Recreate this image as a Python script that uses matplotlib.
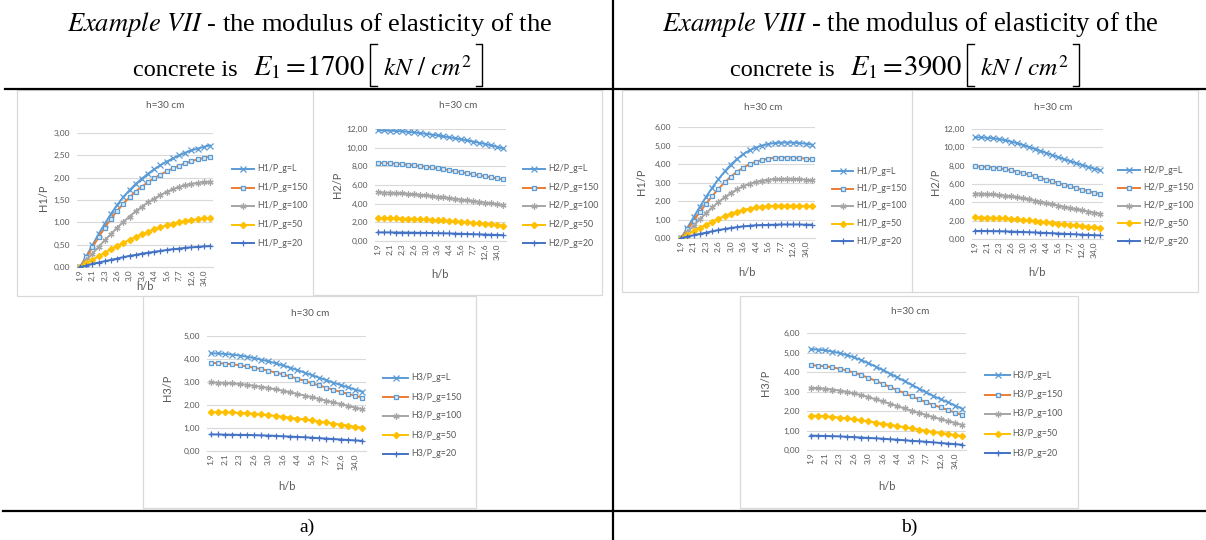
import matplotlib
matplotlib.use("Agg")
import matplotlib.pyplot as plt
from matplotlib.patches import Rectangle
from matplotlib.lines import Line2D
from matplotlib.ticker import FuncFormatter, MultipleLocator

W, H = 1206, 540
plt.rcParams['mathtext.fontset'] = 'stix'

# ---------------- data ----------------
x_labels = ["1,9", "2,0", "2,1", "2,2", "2,3", "2,4", "2,6", "2,8", "3,0", "3,3", "3,6",
            "4,0", "4,4", "4,9", "5,6", "6,5", "7,7", "9,6", "12,6", "18,9", "34,0", "100,0"]
series_suffix = ["g=L", "g=150", "g=100", "g=50", "g=20"]
moduli = ["1700", "3900"]
examples = ["VII", "VIII"]

# Example VII (E1 = 1700)
a_h1_gL = [0.00, 0.24, 0.49, 0.74, 0.97, 1.19, 1.39, 1.57, 1.72, 1.86, 1.98, 2.09, 2.19, 2.28, 2.36, 2.43, 2.50, 2.56, 2.61, 2.65, 2.69, 2.72]
a_h1_g150 = [0.00, 0.22, 0.44, 0.67, 0.88, 1.08, 1.26, 1.42, 1.56, 1.69, 1.80, 1.90, 1.99, 2.07, 2.14, 2.21, 2.27, 2.32, 2.37, 2.41, 2.44, 2.47]
a_h1_g100 = [0.00, 0.15, 0.30, 0.45, 0.60, 0.74, 0.88, 1.01, 1.13, 1.25, 1.35, 1.45, 1.53, 1.61, 1.68, 1.74, 1.79, 1.83, 1.86, 1.88, 1.90, 1.91]
a_h1_g50 = [0.00, 0.08, 0.16, 0.24, 0.32, 0.40, 0.47, 0.54, 0.61, 0.67, 0.73, 0.79, 0.84, 0.89, 0.93, 0.97, 1.00, 1.03, 1.05, 1.07, 1.09, 1.10]
a_h1_g20 = [0.00, 0.03, 0.07, 0.10, 0.13, 0.16, 0.19, 0.22, 0.25, 0.27, 0.30, 0.32, 0.34, 0.36, 0.38, 0.40, 0.41, 0.43, 0.44, 0.45, 0.46, 0.47]

a_h2_gL = [11.85, 11.84, 11.82, 11.79, 11.75, 11.70, 11.64, 11.57, 11.49, 11.40, 11.31, 11.21, 11.11, 11.00, 10.89, 10.77, 10.65, 10.52, 10.39, 10.25, 10.10, 9.92]
a_h2_g150 = [8.35, 8.34, 8.32, 8.29, 8.24, 8.18, 8.12, 8.05, 7.97, 7.88, 7.79, 7.69, 7.59, 7.48, 7.37, 7.26, 7.15, 7.04, 6.93, 6.82, 6.71, 6.60]
a_h2_g100 = [5.20, 5.19, 5.17, 5.14, 5.10, 5.05, 5.00, 4.94, 4.88, 4.81, 4.74, 4.67, 4.59, 4.51, 4.43, 4.35, 4.27, 4.19, 4.11, 4.03, 3.94, 3.85]
a_h2_g50 = [2.45, 2.45, 2.44, 2.43, 2.41, 2.39, 2.37, 2.34, 2.31, 2.28, 2.24, 2.20, 2.16, 2.12, 2.07, 2.02, 1.97, 1.91, 1.85, 1.79, 1.72, 1.65]
a_h2_g20 = [0.92, 0.92, 0.92, 0.91, 0.91, 0.90, 0.89, 0.88, 0.87, 0.86, 0.84, 0.83, 0.81, 0.79, 0.77, 0.75, 0.73, 0.71, 0.69, 0.67, 0.65, 0.62]

a_h3_gL = [4.25, 4.24, 4.22, 4.19, 4.15, 4.10, 4.04, 3.97, 3.90, 3.81, 3.72, 3.62, 3.52, 3.41, 3.30, 3.19, 3.08, 2.97, 2.87, 2.77, 2.67, 2.58]
a_h3_g150 = [3.83, 3.82, 3.80, 3.77, 3.73, 3.68, 3.62, 3.56, 3.49, 3.41, 3.33, 3.24, 3.15, 3.05, 2.95, 2.85, 2.76, 2.66, 2.57, 2.48, 2.40, 2.32]
a_h3_g100 = [2.98, 2.97, 2.96, 2.94, 2.91, 2.88, 2.84, 2.79, 2.74, 2.68, 2.62, 2.55, 2.48, 2.41, 2.34, 2.26, 2.19, 2.11, 2.04, 1.96, 1.89, 1.82]
a_h3_g50 = [1.70, 1.69, 1.69, 1.68, 1.66, 1.64, 1.62, 1.59, 1.56, 1.53, 1.49, 1.45, 1.41, 1.37, 1.33, 1.28, 1.24, 1.19, 1.15, 1.10, 1.06, 1.02]
a_h3_g20 = [0.72, 0.72, 0.71, 0.71, 0.70, 0.70, 0.69, 0.68, 0.67, 0.66, 0.64, 0.63, 0.61, 0.60, 0.58, 0.56, 0.54, 0.52, 0.50, 0.48, 0.46, 0.44]

# Example VIII (E1 = 3900)
b_h1_gL = [0.00, 0.55, 1.12, 1.68, 2.22, 2.72, 3.18, 3.60, 3.97, 4.28, 4.54, 4.74, 4.89, 5.00, 5.08, 5.13, 5.15, 5.16, 5.15, 5.13, 5.10, 5.05]
b_h1_g150 = [0.00, 0.46, 0.93, 1.40, 1.85, 2.27, 2.66, 3.01, 3.32, 3.59, 3.81, 3.99, 4.12, 4.22, 4.29, 4.33, 4.35, 4.35, 4.34, 4.32, 4.29, 4.25]
b_h1_g100 = [0.00, 0.33, 0.67, 1.01, 1.34, 1.65, 1.94, 2.20, 2.43, 2.63, 2.80, 2.93, 3.03, 3.10, 3.15, 3.18, 3.19, 3.20, 3.19, 3.18, 3.15, 3.12]
b_h1_g50 = [0.00, 0.18, 0.36, 0.54, 0.72, 0.89, 1.05, 1.19, 1.32, 1.43, 1.52, 1.59, 1.65, 1.69, 1.72, 1.74, 1.75, 1.75, 1.75, 1.74, 1.73, 1.72]
b_h1_g20 = [0.00, 0.07, 0.15, 0.22, 0.29, 0.36, 0.43, 0.49, 0.54, 0.59, 0.63, 0.66, 0.69, 0.70, 0.71, 0.72, 0.73, 0.73, 0.73, 0.73, 0.72, 0.72]

b_h2_gL = [11.10, 11.08, 11.04, 10.98, 10.90, 10.78, 10.63, 10.46, 10.27, 10.06, 9.84, 9.61, 9.38, 9.15, 8.92, 8.70, 8.48, 8.27, 8.07, 7.87, 7.68, 7.50]
b_h2_g150 = [7.92, 7.90, 7.86, 7.80, 7.72, 7.62, 7.50, 7.36, 7.21, 7.04, 6.86, 6.67, 6.48, 6.29, 6.10, 5.91, 5.73, 5.56, 5.39, 5.22, 5.06, 4.90]
b_h2_g100 = [4.95, 4.94, 4.91, 4.87, 4.81, 4.74, 4.65, 4.55, 4.44, 4.32, 4.19, 4.06, 3.92, 3.78, 3.64, 3.51, 3.38, 3.25, 3.12, 3.00, 2.88, 2.76]
b_h2_g50 = [2.35, 2.34, 2.33, 2.31, 2.28, 2.24, 2.20, 2.15, 2.09, 2.03, 1.97, 1.90, 1.83, 1.76, 1.69, 1.62, 1.55, 1.48, 1.41, 1.34, 1.27, 1.20]
b_h2_g20 = [0.88, 0.88, 0.87, 0.86, 0.85, 0.83, 0.81, 0.79, 0.77, 0.74, 0.72, 0.69, 0.66, 0.63, 0.60, 0.57, 0.54, 0.51, 0.48, 0.45, 0.42, 0.40]

b_h3_gL = [5.17, 5.15, 5.11, 5.05, 4.97, 4.87, 4.75, 4.61, 4.45, 4.28, 4.10, 3.91, 3.72, 3.53, 3.34, 3.15, 2.95, 2.77, 2.60, 2.45, 2.28, 2.12]
b_h3_g150 = [4.35, 4.33, 4.29, 4.24, 4.17, 4.08, 3.97, 3.84, 3.70, 3.55, 3.39, 3.23, 3.07, 2.91, 2.75, 2.60, 2.45, 2.31, 2.18, 2.05, 1.92, 1.78]
b_h3_g100 = [3.18, 3.17, 3.14, 3.10, 3.05, 2.98, 2.90, 2.81, 2.71, 2.60, 2.49, 2.37, 2.25, 2.13, 2.01, 1.90, 1.79, 1.68, 1.58, 1.48, 1.38, 1.28]
b_h3_g50 = [1.76, 1.75, 1.73, 1.70, 1.66, 1.62, 1.57, 1.52, 1.47, 1.41, 1.35, 1.29, 1.23, 1.17, 1.11, 1.05, 0.99, 0.93, 0.87, 0.82, 0.76, 0.71]
b_h3_g20 = [0.74, 0.73, 0.72, 0.71, 0.70, 0.68, 0.66, 0.64, 0.62, 0.60, 0.58, 0.55, 0.53, 0.50, 0.47, 0.45, 0.42, 0.39, 0.36, 0.33, 0.30, 0.27]

# ---------------- styles ----------------
styles = [
    dict(color='#5B9BD5', marker='x', ms=3.8, mew=0.9),
    dict(color='#ED7D31', marker='s', ms=3.4, mfc='#DDEBF7', mec='#5B9BD5', mew=0.9),
    dict(color='#A5A5A5', marker=(6, 2, 0), ms=4.4, mew=0.9),
    dict(color='#FFC000', marker='D', ms=3.3, mec='#FFC000'),
    dict(color='#4472C4', marker='+', ms=4.4, mew=0.9),
]
TXT = '#595959'
GRID = '#D9D9D9'
CHART_FONT = ['Lato', 'DejaVu Sans']
SERIF = ['Liberation Serif', 'DejaVu Serif']


def fx(px):
    return px / W


def fy(py):
    return 1 - py / H


charts = [
    dict(box=(17, 90, 314, 296), gx=(77, 213), y0=267, ytop=133, ymax=3, step=0.5, name='H1',
         title=(165, 106), ylab=(44, 198), xlab=(145, 286), leg=(232, 254, 257, 169, 18.5),
         data=[a_h1_gL, a_h1_g150, a_h1_g100, a_h1_g50, a_h1_g20]),
    dict(box=(313, 90, 602, 295), gx=(375, 506), y0=241, ytop=129, ymax=12, step=2, name='H2',
         title=(458, 106), ylab=(337, 185), xlab=(440, 275), leg=(523, 545, 548, 169, 18.5),
         data=[a_h2_gL, a_h2_g150, a_h2_g100, a_h2_g50, a_h2_g20]),
    dict(box=(143, 296, 476, 508), gx=(207, 366), y0=451, ytop=336, ymax=5, step=1, name='H3',
         title=(310, 313), ylab=(168, 388), xlab=(287, 487), leg=(383, 408, 411, 378, 19),
         data=[a_h3_gL, a_h3_g150, a_h3_g100, a_h3_g50, a_h3_g20]),
    dict(box=(622, 90, 913, 292), gx=(678, 815), y0=238, ytop=127, ymax=6, step=1, name='H1',
         title=(763, 107), ylab=(642, 182), xlab=(747, 272), leg=(832, 853, 856, 171, 17.5),
         data=[b_h1_gL, b_h1_g150, b_h1_g100, b_h1_g50, b_h1_g20]),
    dict(box=(912, 90, 1198, 292), gx=(972, 1103), y0=239, ytop=129, ymax=12, step=2, name='H2',
         title=(1053, 107), ylab=(935, 182), xlab=(1037, 272), leg=(1118, 1140, 1143, 170, 17.8),
         data=[b_h2_gL, b_h2_g150, b_h2_g100, b_h2_g50, b_h2_g20]),
    dict(box=(740, 296, 1078, 508), gx=(807, 966), y0=450, ytop=333, ymax=6, step=1, name='H3',
         title=(910, 312), ylab=(765, 383), xlab=(887, 487), leg=(985, 1010, 1012, 375, 19.5),
         data=[b_h3_gL, b_h3_g150, b_h3_g100, b_h3_g50, b_h3_g20]),
]

fig = plt.figure(figsize=(W / 100, H / 100), dpi=100)
fig.patch.set_facecolor('white')
renderer = fig.canvas.get_renderer()

comma_fmt = FuncFormatter(lambda v, p: f"{v:.2f}".replace('.', ','))
xs = list(range(len(x_labels)))

for c in charts:
    bx0, by0, bx1, by1 = c['box']
    fig.add_artist(Rectangle((fx(bx0), fy(by1)), fx(bx1) - fx(bx0), (by1 - by0) / H,
                             transform=fig.transFigure, facecolor='white',
                             edgecolor=GRID, lw=0.9, zorder=-5))
    gx0, gx1 = c['gx']
    ax = fig.add_axes([fx(gx0), fy(c['y0']), fx(gx1) - fx(gx0), (c['y0'] - c['ytop']) / H])
    ax.patch.set_visible(False)
    for i, ser in enumerate(c['data']):
        st = styles[i]
        ax.plot(xs, ser, color=st['color'], lw=1.4, marker=st['marker'], ms=st['ms'],
                mew=st.get('mew', 0.8), mfc=st.get('mfc', st['color']),
                mec=st.get('mec', st['color']), zorder=3)
    ax.set_xlim(-0.5, len(xs) - 0.5)
    ax.set_ylim(0, c['ymax'])
    ax.yaxis.set_major_locator(MultipleLocator(c['step']))
    ax.yaxis.set_major_formatter(comma_fmt)
    ax.set_xticks(xs[::2])
    ax.set_xticklabels(x_labels[::2], rotation=90)
    ax.grid(axis='y', color=GRID, lw=0.8)
    ax.set_axisbelow(True)
    for s in ['top', 'right', 'left']:
        ax.spines[s].set_visible(False)
    ax.spines['bottom'].set_color(GRID)
    ax.spines['bottom'].set_linewidth(0.8)
    ax.tick_params(length=0, labelsize=6.0, colors=TXT, pad=2)
    for t in ax.get_xticklabels() + ax.get_yticklabels():
        t.set_family(CHART_FONT)
    ax.tick_params(axis='y', pad=5)

    fig.text(fx(c['title'][0]), fy(c['title'][1]), 'h=30 cm', ha='center', va='center',
             fontsize=7.2, color=TXT, family=CHART_FONT)
    fig.text(fx(c['ylab'][0]), fy(c['ylab'][1]), f"{c['name']}/P", ha='center', va='center',
             rotation=90, fontsize=8, color=TXT, family=CHART_FONT)
    fig.text(fx(c['xlab'][0]), fy(c['xlab'][1]), 'h/b', ha='center', va='center',
             fontsize=8, color=TXT, family=CHART_FONT)

    lx0, lx1, tx, ly, dy = c['leg']
    for i, suf in enumerate(series_suffix):
        st = styles[i]
        yy = fy(ly + i * dy)
        fig.add_artist(Line2D([fx(lx0), fx((lx0 + lx1) / 2), fx(lx1)], [yy, yy, yy],
                              transform=fig.transFigure, color=st['color'], lw=1.4,
                              marker=st['marker'], markevery=[1], ms=st['ms'],
                              mew=st.get('mew', 0.8), mfc=st.get('mfc', st['color']),
                              mec=st.get('mec', st['color'])))
        fig.text(fx(tx), yy, f"{c['name']}/P_{suf}", ha='left', va='center',
                 fontsize=6.4, color=TXT, family=CHART_FONT)

# ---------------- table frame ----------------
fig.add_artist(Line2D([fx(613), fx(613)], [0, 1], transform=fig.transFigure, color='black', lw=1.6))
fig.add_artist(Line2D([fx(5), 1], [fy(89), fy(89)], transform=fig.transFigure, color='black', lw=1.6))
fig.add_artist(Line2D([fx(3), 1], [fy(511), fy(511)], transform=fig.transFigure, color='black', lw=1.6))


# ---------------- headers ----------------
def fit_text(x, y, s, target_w, base=10):
    t = fig.text(fx(x), fy(y), s, fontsize=base, ha='left', va='baseline', family=SERIF)
    w = t.get_window_extent(renderer=renderer).width
    t.set_fontsize(base * target_w / w)
    return t


def bracket(xv, xe, ytop, ybot):
    fig.add_artist(Line2D([fx(xe), fx(xv), fx(xv), fx(xe)], [fy(ytop), fy(ytop), fy(ybot), fy(ybot)],
                          transform=fig.transFigure, color='black', lw=1.0))


for k, (ex, mod) in enumerate(zip(examples, moduli)):
    dx = 597 * k
    l1w = 486 if k == 0 else 497
    l1x = 310 - l1w / 2 + (601 if k == 0 else 601) * k
    fit_text(l1x, 31, rf"$\mathit{{Example\ {ex}}}$ - the modulus of elasticity of the", l1w)
    fit_text(133 + dx, 75.5, "concrete is", 104)
    fit_text(253 + dx, 75.5, rf"$E_1=\!{mod}$", 114)
    bracket(370 + dx, 377 + dx, 44, 86)
    fit_text(383 + dx, 75.5, r"$kN\ /\ cm^2$", 90)
    bracket(482 + dx, 476 + dx, 44, 86)

fig.text(fx(307), fy(527), 'a)', ha='center', va='center', fontsize=14, family=SERIF)
fig.text(fx(909), fy(527), 'b)', ha='center', va='center', fontsize=14, family=SERIF)

fig.savefig('out.png', dpi=100, facecolor='white')
